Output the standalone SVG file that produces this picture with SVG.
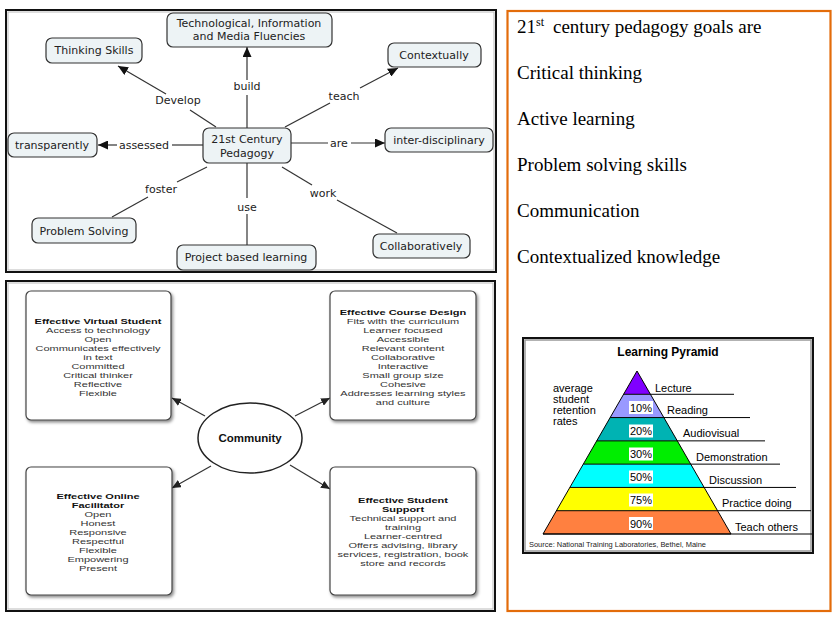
<svg xmlns="http://www.w3.org/2000/svg" width="836" height="621" viewBox="0 0 836 621">
<style>
.frame{fill:#fff;stroke:#111;stroke-width:2}
.cm rect{fill:#edf3f5;stroke:#333;stroke-width:1.2}
.cmt{font-family:"DejaVu Sans",Verdana,sans-serif;font-size:11px;fill:#222;text-anchor:middle}
.edge{stroke:#333;stroke-width:1.2;fill:none}
.bx rect.b{fill:#fff;stroke:#444;stroke-width:1.2}
.bt{font-family:"Liberation Sans",Arial,sans-serif;font-size:11px;fill:#333;text-anchor:middle}
.bt .h{font-weight:bold;fill:#111}
.goal{font-family:"Liberation Serif","Times New Roman",serif;font-size:19px;fill:#000}
.pl{font-family:"Liberation Sans",Arial,sans-serif;font-size:11px;fill:#000}
.pct rect{fill:#fff}
.pct text{font-family:"Liberation Sans",Arial,sans-serif;font-size:11px;fill:#000;text-anchor:middle}
.bl{stroke:#000;stroke-width:1}
</style>
<defs>
<marker id="ah" markerUnits="userSpaceOnUse" markerWidth="11" markerHeight="9" refX="10" refY="4.5" orient="auto">
<path d="M0,0 L10,4.5 L0,9 z" fill="#111"/>
</marker>
<marker id="ah2" markerUnits="userSpaceOnUse" markerWidth="10" markerHeight="8" refX="9" refY="4" orient="auto">
<path d="M0,0 L9,4 L0,8 z" fill="#222"/>
</marker>
<filter id="sh" x="-10%" y="-10%" width="125%" height="125%">
<feDropShadow dx="1.5" dy="2" stdDeviation="1.5" flood-color="#000" flood-opacity="0.45"/>
</filter>
</defs>
<rect width="836" height="621" fill="#fff"/>

<!-- Top-left concept map -->
<g id="panel-concept-map">
<rect class="frame" x="6" y="10" width="490" height="262"/>
<rect x="8" y="12" width="486" height="258" fill="none" stroke="#bbb" stroke-width="1"/>
</g>
<g id="connectors-map">
<line class="edge" x1="216" y1="127" x2="190" y2="110"/>
<line class="edge" x1="166" y1="94" x2="118" y2="66" marker-end="url(#ah)"/>
<text class="cmt" x="178" y="104">Develop</text>
<line class="edge" x1="247" y1="128" x2="247" y2="95"/>
<line class="edge" x1="247" y1="80" x2="247" y2="47" marker-end="url(#ah)"/>
<text class="cmt" x="247" y="90">build</text>
<line class="edge" x1="285" y1="127" x2="330" y2="103"/>
<line class="edge" x1="360" y1="88" x2="398" y2="68" marker-end="url(#ah)"/>
<text class="cmt" x="344" y="100">teach</text>
<line class="edge" x1="291" y1="143" x2="328" y2="143"/>
<line class="edge" x1="351" y1="143" x2="385" y2="143" marker-end="url(#ah)"/>
<text class="cmt" x="339" y="147">are</text>
<line class="edge" x1="203" y1="145" x2="172" y2="145"/>
<line class="edge" x1="117" y1="145" x2="98" y2="145" marker-end="url(#ah)"/>
<text class="cmt" x="144" y="149">assessed</text>
<line class="edge" x1="207" y1="167" x2="177" y2="182"/>
<line class="edge" x1="148" y1="197" x2="112" y2="217"/>
<text class="cmt" x="161" y="193">foster</text>
<line class="edge" x1="247" y1="163" x2="247" y2="198"/>
<line class="edge" x1="247" y1="214" x2="247" y2="245"/>
<text class="cmt" x="247" y="211">use</text>
<line class="edge" x1="282" y1="167" x2="312" y2="185"/>
<line class="edge" x1="337" y1="200" x2="397" y2="233"/>
<text class="cmt" x="323" y="197">work</text>
</g>
<g id="node-tech" class="cm"><rect x="167" y="13" width="165" height="34" rx="6"/><text class="cmt" x="249" y="27">Technological, Information</text><text class="cmt" x="249" y="40">and Media Fluencies</text></g>
<g id="node-thinking" class="cm"><rect x="46" y="38" width="96" height="25" rx="6"/><text class="cmt" x="94" y="54">Thinking Skills</text></g>
<g id="node-contextually" class="cm"><rect x="388" y="43" width="93" height="24" rx="6"/><text class="cmt" x="434" y="59">Contextually</text></g>
<g id="node-pedagogy" class="cm"><rect x="203" y="128" width="88" height="35" rx="6"/><text class="cmt" x="247" y="143">21st Century</text><text class="cmt" x="247" y="157">Pedagogy</text></g>
<g id="node-transparently" class="cm"><rect x="8" y="133" width="89" height="24" rx="6"/><text class="cmt" x="52" y="149">transparently</text></g>
<g id="node-interdisciplinary" class="cm"><rect x="385" y="128" width="108" height="24" rx="6"/><text class="cmt" x="439" y="144">inter-disciplinary</text></g>
<g id="node-problem" class="cm"><rect x="32" y="218" width="104" height="25" rx="6"/><text class="cmt" x="84" y="235">Problem Solving</text></g>
<g id="node-project" class="cm"><rect x="177" y="245" width="139" height="25" rx="6"/><text class="cmt" x="246" y="261">Project based learning</text></g>
<g id="node-collab" class="cm"><rect x="373" y="234" width="97" height="24" rx="6"/><text class="cmt" x="421" y="250">Collaboratively</text></g>

<!-- Bottom-left community diagram -->
<g id="panel-community">
<rect class="frame" x="6" y="281" width="489" height="330"/>
<rect x="8" y="283" width="485" height="326" fill="none" stroke="#bbb" stroke-width="1"/>
</g>
<g id="connectors-community">
<line class="edge" x1="205" y1="416" x2="172" y2="398" marker-end="url(#ah2)"/>
<line class="edge" x1="295" y1="416" x2="330" y2="398" marker-end="url(#ah2)"/>
<line class="edge" x1="211" y1="466" x2="172" y2="488" marker-end="url(#ah2)"/>
<line class="edge" x1="290" y1="465" x2="330" y2="489" marker-end="url(#ah2)"/>
</g>
<g id="node-community">
<ellipse cx="250" cy="438" rx="52" ry="35" fill="#fff" stroke="#222" stroke-width="1.5"/>
<text x="250" y="442" font-family="Liberation Sans,Arial,sans-serif" font-size="11.5" font-weight="bold" fill="#111" text-anchor="middle">Community</text>
</g>
<g id="node-virtual-student" class="bx">
<rect class="b" x="26" y="291" width="145" height="129" rx="5" filter="url(#sh)"/>
<text class="bt" transform="scale(1,0.72)"><tspan class="h" x="98" y="450">Effective Virtual Student</tspan><tspan x="98" y="462.5">Access to technology</tspan><tspan x="98" y="475">Open</tspan><tspan x="98" y="487.5">Communicates effectively</tspan><tspan x="98" y="500">in text</tspan><tspan x="98" y="512.5">Committed</tspan><tspan x="98" y="525">Critical thinker</tspan><tspan x="98" y="537.5">Reflective</tspan><tspan x="98" y="550">Flexible</tspan></text>
</g>
<g id="node-course-design" class="bx">
<rect class="b" x="330" y="291" width="146" height="129" rx="5" filter="url(#sh)"/>
<text class="bt" transform="scale(1,0.72)"><tspan class="h" x="403" y="437.5">Effective Course Design</tspan><tspan x="403" y="450">Fits with the curriculum</tspan><tspan x="403" y="462.5">Learner focused</tspan><tspan x="403" y="475">Accessible</tspan><tspan x="403" y="487.5">Relevant content</tspan><tspan x="403" y="500">Collaborative</tspan><tspan x="403" y="512.5">Interactive</tspan><tspan x="403" y="525">Small group size</tspan><tspan x="403" y="537.5">Cohesive</tspan><tspan x="403" y="550">Addresses learning styles</tspan><tspan x="403" y="562.5">and culture</tspan></text>
</g>
<g id="node-online-facilitator" class="bx">
<rect class="b" x="26" y="467" width="146" height="128" rx="5" filter="url(#sh)"/>
<text class="bt" transform="scale(1,0.72)"><tspan class="h" x="98" y="693">Effective Online</tspan><tspan class="h" x="98" y="705.5">Facilitator</tspan><tspan x="98" y="718">Open</tspan><tspan x="98" y="730.5">Honest</tspan><tspan x="98" y="743">Responsive</tspan><tspan x="98" y="755.5">Respectful</tspan><tspan x="98" y="768">Flexible</tspan><tspan x="98" y="780.5">Empowering</tspan><tspan x="98" y="793">Present</tspan></text>
</g>
<g id="node-student-support" class="bx">
<rect class="b" x="330" y="467" width="146" height="128" rx="5" filter="url(#sh)"/>
<text class="bt" transform="scale(1,0.72)"><tspan class="h" x="403" y="698.6">Effective Student</tspan><tspan class="h" x="403" y="711.1">Support</tspan><tspan x="403" y="723.6">Technical support and</tspan><tspan x="403" y="736.1">training</tspan><tspan x="403" y="748.6">Learner-centred</tspan><tspan x="403" y="761.1">Offers advising, library</tspan><tspan x="403" y="773.6">services, registration, book</tspan><tspan x="403" y="786.1">store and records</tspan></text>
</g>

<!-- Right panel -->
<g id="panel-goals">
<rect x="507.5" y="11" width="323" height="600" fill="#fff" stroke="#e36c0a" stroke-width="2.2"/>
<text class="goal" x="517" y="33">21<tspan font-size="12" dy="-7">st</tspan><tspan x="553" dy="7">century pedagogy goals are</tspan></text>
<text class="goal" x="517" y="79">Critical thinking</text>
<text class="goal" x="517" y="125">Active learning</text>
<text class="goal" x="517" y="171">Problem solving skills</text>
<text class="goal" x="517" y="217">Communication</text>
<text class="goal" x="517" y="263">Contextualized knowledge</text>
</g>

<!-- Learning pyramid -->
<g id="learning-pyramid">
<rect x="523" y="338" width="290" height="215" fill="#fff" stroke="#111" stroke-width="2"/>
<rect x="525" y="340" width="286" height="211" fill="none" stroke="#999" stroke-width="1.5"/>
<text x="668" y="356" font-family="Liberation Sans,Arial,sans-serif" font-size="12" font-weight="bold" text-anchor="middle">Learning Pyramid</text>
<text class="pl" font-size="10" fill="#222"><tspan x="553" y="392">average</tspan><tspan x="553" y="403">student</tspan><tspan x="553" y="414">retention</tspan><tspan x="553" y="425">rates</tspan></text>
<polygon points="637,371 650.43,394.29 623.57,394.29" fill="#8000ff"/>
<polygon points="623.57,394.29 650.43,394.29 663.86,417.57 610.14,417.57" fill="#9999ff"/>
<polygon points="610.14,417.57 663.86,417.57 677.29,440.86 596.71,440.86" fill="#00b3b3"/>
<polygon points="596.71,440.86 677.29,440.86 690.71,464.14 583.29,464.14" fill="#00ee00"/>
<polygon points="583.29,464.14 690.71,464.14 704.14,487.43 569.86,487.43" fill="#00ffff"/>
<polygon points="569.86,487.43 704.14,487.43 717.57,510.71 556.43,510.71" fill="#ffff00"/>
<polygon points="556.43,510.71 717.57,510.71 731,534 543,534" fill="#ff8040"/>
<polygon points="637,371 731,534 543,534" fill="none" stroke="#000" stroke-width="1"/>
<line class="bl" x1="623.57" y1="394.29" x2="734" y2="394.29"/>
<line class="bl" x1="610.14" y1="417.57" x2="750" y2="417.57"/>
<line class="bl" x1="596.71" y1="440.86" x2="765" y2="440.86"/>
<line class="bl" x1="583.29" y1="464.14" x2="780" y2="464.14"/>
<line class="bl" x1="569.86" y1="487.43" x2="796" y2="487.43"/>
<line class="bl" x1="556.43" y1="510.71" x2="811" y2="510.71"/>
<line class="bl" x1="543" y1="534" x2="812" y2="534"/>
<g class="pct">
<rect x="629" y="401" width="24" height="13"/><text x="641" y="411.5">10%</text>
<rect x="629" y="424.5" width="24" height="13"/><text x="641" y="435">20%</text>
<rect x="629" y="447.5" width="24" height="13"/><text x="641" y="458">30%</text>
<rect x="629" y="470.5" width="24" height="13"/><text x="641" y="481">50%</text>
<rect x="629" y="493.5" width="24" height="13"/><text x="641" y="504">75%</text>
<rect x="629" y="517" width="24" height="13"/><text x="641" y="527.5">90%</text>
</g>
<text class="pl" x="655" y="392">Lecture</text>
<text class="pl" x="667" y="414">Reading</text>
<text class="pl" x="683" y="437">Audiovisual</text>
<text class="pl" x="696" y="461">Demonstration</text>
<text class="pl" x="709" y="484">Discussion</text>
<text class="pl" x="722" y="507">Practice doing</text>
<text class="pl" x="735" y="531">Teach others</text>
<text x="529" y="547" font-family="Liberation Sans,Arial,sans-serif" font-size="8" fill="#222" textLength="177" lengthAdjust="spacingAndGlyphs">Source: National Training Laboratories, Bethel, Maine</text>
</g>
</svg>
